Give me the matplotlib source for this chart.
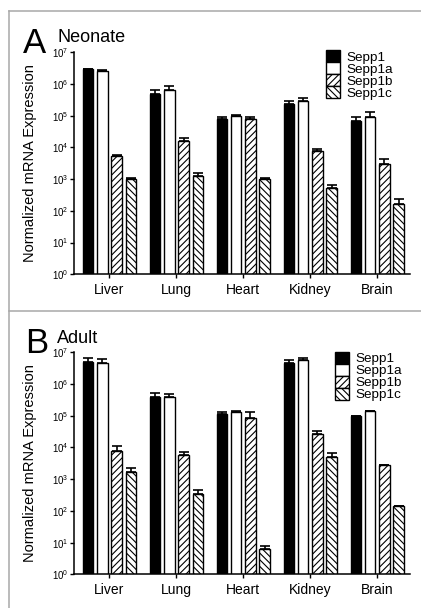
# Sepp1 isoform expression in neonate and adult tissues (log scale bars)

import matplotlib
matplotlib.use('Agg')
import matplotlib.pyplot as plt
from matplotlib.lines import Line2D
import numpy as np

plt.rcParams['font.family'] = ['Liberation Sans', 'DejaVu Sans']
plt.rcParams['hatch.linewidth'] = 0.8

tissues = ['Liver', 'Lung', 'Heart', 'Kidney', 'Brain']
genes = ['Sepp1', 'Sepp1a', 'Sepp1b', 'Sepp1c']

# neonate
neo_sepp1 = [2.9e6, 4.7e5, 8.1e4, 2.4e5, 6.8e4]
neo_sepp1a = [2.6e6, 6.3e5, 1.0e5, 2.9e5, 9.1e4]
neo_sepp1b = [5.5e3, 1.6e4, 8.0e4, 7.7e3, 2.9e3]
neo_sepp1c = [1.0e3, 1.3e3, 1.0e3, 5.4e2, 1.6e2]
neo_err1 = [1.5e5, 1.8e5, 8e3, 5e4, 2.5e4]
neo_err1a = [1.0e5, 2.6e5, 7e3, 6.5e4, 4.1e4]
neo_err1b = [2e2, 3.5e3, 8e3, 1.2e3, 1.3e3]
neo_err1c = [50, 3e2, 1.2e2, 90, 70]

# adult
ad_sepp1 = [5.1e6, 4.0e5, 1.16e5, 4.6e6, 1.0e5]
ad_sepp1a = [4.5e6, 3.8e5, 1.35e5, 5.6e6, 1.4e5]
ad_sepp1b = [7.9e3, 5.9e3, 8.7e4, 2.7e4, 2.8e3]
ad_sepp1c = [1.7e3, 3.4e2, 6.3, 5.0e3, 1.4e2]
ad_err1 = [1.4e6, 1.1e5, 1.3e4, 1.0e6, 0]
ad_err1a = [1.7e6, 1.2e5, 1.0e4, 1.0e6, 0]
ad_err1b = [3.6e3, 1.5e3, 4.5e4, 5e3, 1e2]
ad_err1c = [6e2, 1e2, 1.6, 1.5e3, 5]

faces = ['black', 'white', 'white', 'white']
hatches = [None, None, '/////', '\\\\\\\\\\']


def draw_panel(ax, vals, errs, legend_x, legend_y):
    x = np.arange(len(tissues))
    width = 0.157
    step = 0.213
    for i in range(4):
        xi = x + (i - 1.5)*step
        ax.bar(xi, vals[i], width, color=faces[i], edgecolor='black',
               linewidth=1.0, hatch=hatches[i], label=genes[i], zorder=2)
        lower = np.zeros(len(tissues))
        ax.errorbar(xi, vals[i], yerr=[lower, errs[i]], fmt='none',
                    ecolor='black', elinewidth=1.2, capsize=3.5,
                    capthick=1.2, zorder=1)
    ax.set_yscale('log')
    ax.set_ylim(1, 1e7)
    ax.set_xlim(-0.53, 4.49)
    ax.set_xticks(x)
    ax.set_xticklabels(tissues, fontsize=10)
    ax.set_yticks([10.0**k for k in range(8)])
    ax.minorticks_off()
    ax.tick_params(axis='y', labelsize=7, length=3, width=1.0, pad=1)
    ax.tick_params(axis='x', length=3, width=1.0, pad=3)
    for s in ['top', 'right']:
        ax.spines[s].set_visible(False)
    for s in ['left', 'bottom']:
        ax.spines[s].set_linewidth(1.1)
    ax.set_ylabel('Normalized mRNA Expression', fontsize=10.5)
    ax.yaxis.set_label_coords(-0.11, 0.5)
    ax.legend(loc='upper left', bbox_to_anchor=(legend_x, legend_y),
              frameon=False, fontsize=9.7, borderpad=0, borderaxespad=0,
              labelspacing=-0.12, handlelength=1.06, handleheight=1.0,
              handletextpad=0.45)


fig = plt.figure(figsize=(4.21, 6.08), dpi=100)
axA = fig.add_axes([0.1758, 0.5489, 0.798, 0.3651])
axB = fig.add_axes([0.1758, 0.0554, 0.798, 0.3651])

draw_panel(axA, [neo_sepp1, neo_sepp1a, neo_sepp1b, neo_sepp1c],
           [neo_err1, neo_err1a, neo_err1b, neo_err1c], 0.749, 1.01)
draw_panel(axB, [ad_sepp1, ad_sepp1a, ad_sepp1b, ad_sepp1c],
           [ad_err1, ad_err1a, ad_err1b, ad_err1c], 0.777, 1.003)

fig.text(0.0546, 0.9128, 'A', fontsize=25, va='baseline')
fig.text(0.1354, 0.9309, 'Neonate', fontsize=13, va='baseline')
fig.text(0.0594, 0.4194, 'B', fontsize=25, va='baseline')
fig.text(0.1354, 0.4359, 'Adult', fontsize=13, va='baseline')

# grey panel frame
gc = '#a8a8a8'
fig.add_artist(Line2D([0.0214, 1.0], [0.9819, 0.9819], color=gc, lw=1.1))
fig.add_artist(Line2D([0.0214, 1.0], [0.4885, 0.4885], color=gc, lw=1.1))
fig.add_artist(Line2D([0.0214, 0.0214], [0.0, 0.9819], color=gc, lw=1.1))

plt.savefig('out.png', dpi=100)
